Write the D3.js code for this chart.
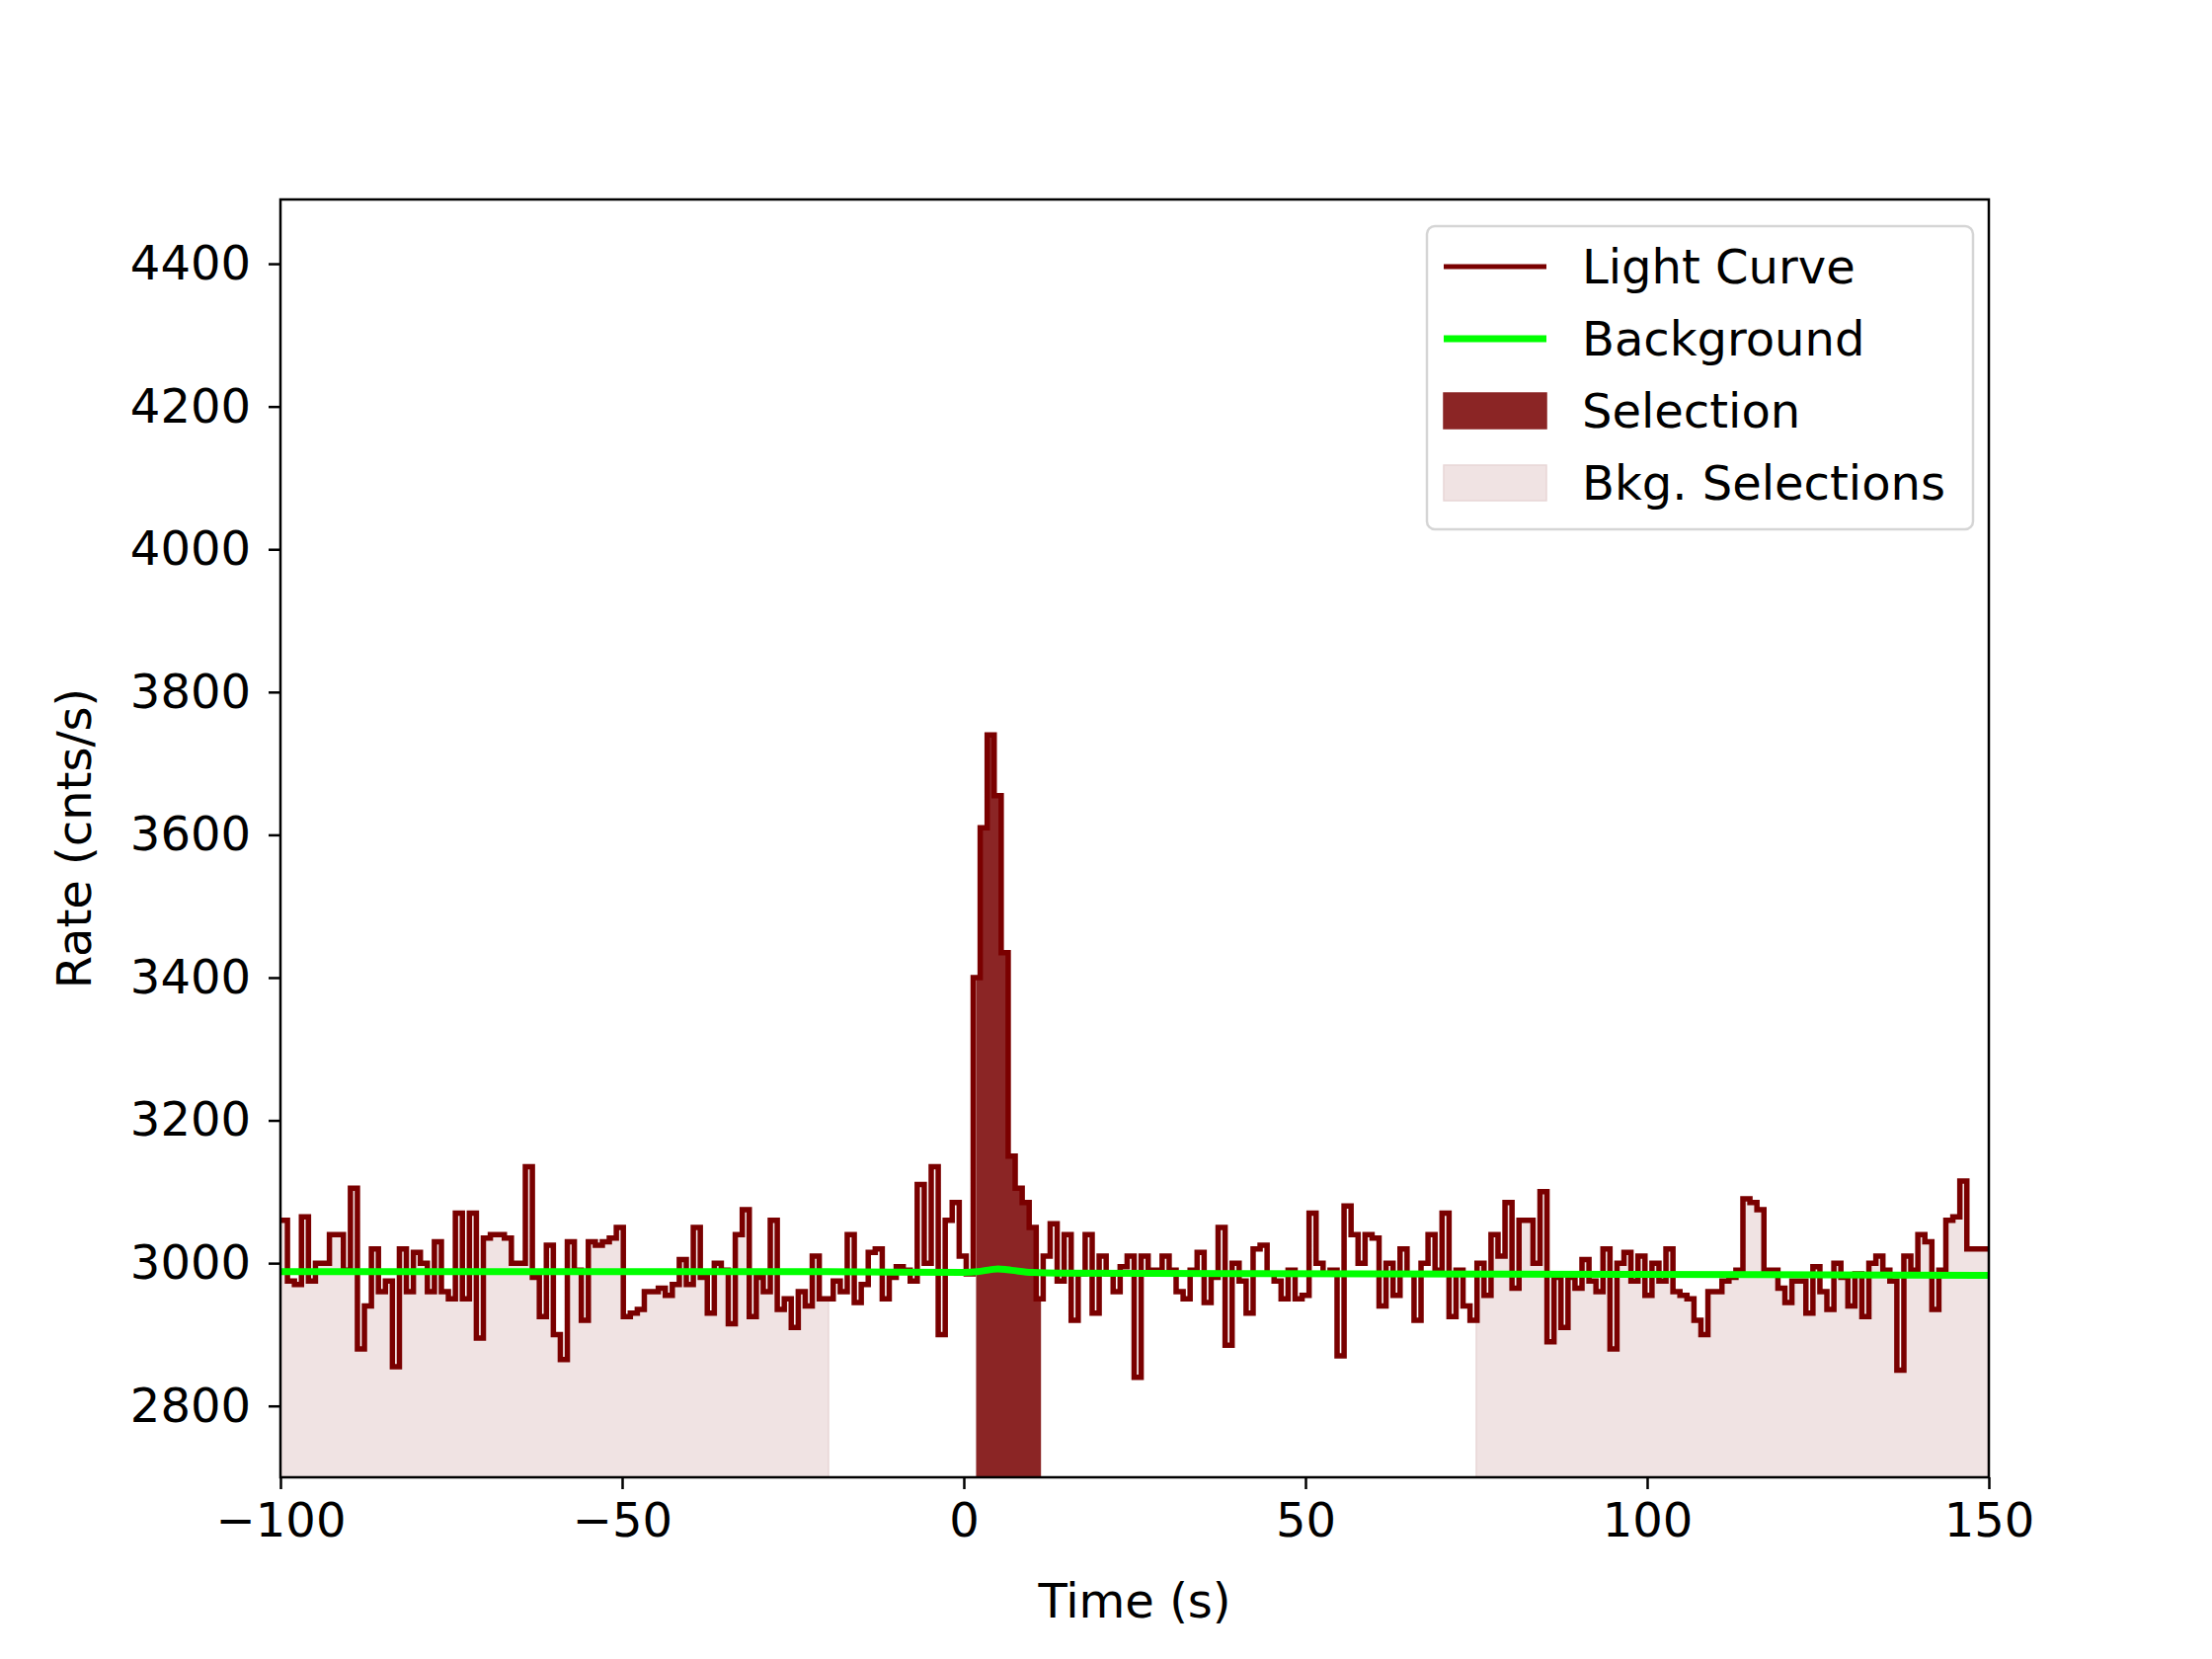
<!DOCTYPE html>
<html>
<head>
<meta charset="utf-8">
<script src="https://cdn.jsdelivr.net/npm/d3@7"></script>
<style>
  body { margin: 0; background: #fff; }
  text { font-family: "DejaVu Sans", sans-serif; }
</style>
</head>
<body>
<svg id="chart" width="2240" height="1680"></svg>
<script>
// light curve: 1.024 s bins starting at t0
const t0 = -100;
const binWidth = 1.024;
const rates = [
  3060,2975,2970,3065,2975,3000,3000,3040,3040,2990,
  3105,2880,2940,3020,2960,2975,2855,3020,2960,3015,
  3000,2960,3030,2960,2950,3070,2950,3070,2895,3035,
  3040,3040,3035,3000,3000,3135,2980,2925,3025,2900,
  2865,3030,2990,2920,3030,3025,3030,3035,3050,2925,
  2930,2935,2960,2960,2965,2955,2970,3005,2970,3050,
  2980,2930,3000,2990,2915,3040,3075,2925,2980,2960,
  3060,2935,2950,2910,2960,2940,3010,2950,2950,2975,
  2960,3040,2945,2970,3015,3020,2950,2980,2995,2990,
  2975,3110,3000,3135,2900,3060,3085,3010,2985,3400,
  3610,3740,3655,3435,3150,3105,3085,3050,
  2950,3010,3055,2975,3040,2920,2985,3040,2930,3010,
  2985,2960,2995,3010,2840,3010,2990,2990,3010,2990,
  2960,2950,2990,3015,2945,2980,3050,2885,3000,2975,
  2930,3020,3025,2985,2975,2950,2990,2950,2955,3070,
  3000,2985,2990,2870,3080,3040,3000,3040,3035,2940,
  3000,2955,3020,2985,2920,3000,3040,2990,3070,2925,
  2990,2940,2920,3000,2955,3040,3010,3085,2965,3060,
  3060,3000,3100,2890,2980,2910,2980,2965,3005,2975,
  2960,3020,2880,3000,3015,2975,3010,2955,3000,2975,
  3020,2960,2955,2950,2920,2900,2960,2960,2975,2980,
  2990,3090,3085,3075,2990,2990,2965,2945,2975,2975,
  2930,2995,2960,2935,3000,2980,2940,2985,2925,3000,
  3010,2990,2975,2850,3010,2990,3040,3030,2935,2990,
  3060,3065,3115,3020,3020,3020
];
// background model
const bkgTimes = [-100, -20, 0, 2, 4, 5, 7, 10, 14, 60, 150];
const bkgRates = [2988, 2988, 2987, 2988, 2991, 2992, 2990, 2987, 2986, 2985, 2983];
// selections
const selection = [1.8, 11.3];
const bkgSelections = [[-100, -19.8], [75, 150]];
const xTicks = [-100, -50, 0, 50, 100, 150];
const yTicks = [2800, 3000, 3200, 3400, 3600, 3800, 4000, 4200, 4400];

const lcColor = "#7a0000";
const svg = d3.select("#chart");
const margin = { left: 284, right: 2014, top: 202, bottom: 1496 };

const x = d3.scaleLinear().domain([-100, 150]).range([margin.left, margin.right]);
const y = d3.scaleLinear().domain([2700, 4490]).range([margin.bottom, margin.top]);

const bins = rates.map((v, i) => ({ t: t0 + i * binWidth, v }));
const stepPts = bins.concat([{ t: t0 + bins.length * binWidth, v: rates[rates.length - 1] }]);

svg.append("clipPath").attr("id", "clip").append("rect")
  .attr("x", margin.left).attr("y", margin.top)
  .attr("width", margin.right - margin.left).attr("height", margin.bottom - margin.top);

const plot = svg.append("g").attr("clip-path", "url(#clip)");

// area under the curve between two times
function areaBetween(a, b) {
  const pts = [];
  bins.forEach(d => {
    const s = Math.max(d.t, a), e = Math.min(d.t + binWidth, b);
    if (e > s) { pts.push({ t: s, v: d.v }); pts.push({ t: e, v: d.v }); }
  });
  return d3.area().x(d => x(d.t)).y0(y(2700)).y1(d => y(d.v))(pts);
}

bkgSelections.forEach(r => {
  plot.append("path").attr("d", areaBetween(r[0], r[1]))
    .attr("fill", "#f0e3e3").attr("stroke", "#e8d6d6").attr("stroke-width", 1.5);
});
plot.append("path").attr("d", areaBetween(selection[0], selection[1]))
  .attr("fill", "#8b2525");

plot.append("path")
  .attr("d", d3.line().curve(d3.curveStepAfter).x(d => x(d.t)).y(d => y(d.v))(stepPts))
  .attr("fill", "none").attr("stroke", lcColor).attr("stroke-width", 5.5);

plot.append("path")
  .attr("d", d3.line().curve(d3.curveMonotoneX).x((d, i) => x(d)).y((d, i) => y(bkgRates[i]))(bkgTimes))
  .attr("fill", "none").attr("stroke", "#00ff00").attr("stroke-width", 7);

// axes
const fs = 48;
const xAxis = svg.append("g").attr("transform", `translate(0,${margin.bottom})`)
  .call(d3.axisBottom(x).tickValues(xTicks).tickSize(12).tickPadding(14).tickFormat(d => d < 0 ? "\u2212" + Math.abs(d) : d));
const yAxis = svg.append("g").attr("transform", `translate(${margin.left},0)`)
  .call(d3.axisLeft(y).tickValues(yTicks).tickSize(12).tickPadding(18).tickFormat(d3.format("d")));
[xAxis, yAxis].forEach(g => {
  g.select(".domain").remove();
  g.selectAll("line").attr("stroke", "#000").attr("stroke-width", 2.5);
  g.selectAll("text").attr("font-size", fs).attr("fill", "#000")
    .style("font-family", "DejaVu Sans");
});

svg.append("rect").attr("x", margin.left).attr("y", margin.top)
  .attr("width", margin.right - margin.left).attr("height", margin.bottom - margin.top)
  .attr("fill", "none").attr("stroke", "#000").attr("stroke-width", 2.5);

svg.append("text").attr("x", (margin.left + margin.right) / 2).attr("y", 1638)
  .attr("text-anchor", "middle").attr("font-size", fs).text("Time (s)");
svg.append("text").attr("transform", `translate(92,${(margin.top + margin.bottom) / 2}) rotate(-90)`)
  .attr("text-anchor", "middle").attr("font-size", fs).text("Rate (cnts/s)");

// legend
const legend = svg.append("g");
legend.append("rect").attr("x", 1445).attr("y", 229).attr("width", 553).attr("height", 307)
  .attr("rx", 8).attr("fill", "#fff").attr("fill-opacity", 0.8)
  .attr("stroke", "#d5d5d5").attr("stroke-width", 2.5);
const items = [
  { label: "Light Curve", type: "line", color: lcColor, w: 5 },
  { label: "Background", type: "line", color: "#00ff00", w: 7 },
  { label: "Selection", type: "box", color: "#8b2525", stroke: "#8b2525" },
  { label: "Bkg. Selections", type: "box", color: "#f0e3e3", stroke: "#e8d6d6" }
];
items.forEach((it, i) => {
  const cy = 270 + i * 73;
  if (it.type === "line") {
    legend.append("line").attr("x1", 1462).attr("x2", 1566).attr("y1", cy).attr("y2", cy)
      .attr("stroke", it.color).attr("stroke-width", it.w);
  } else {
    legend.append("rect").attr("x", 1462).attr("y", cy - 18).attr("width", 104).attr("height", 36)
      .attr("fill", it.color).attr("stroke", it.stroke).attr("stroke-width", 1.5);
  }
  legend.append("text").attr("x", 1602).attr("y", cy + 17).attr("font-size", fs).text(it.label);
});
</script>
</body>
</html>
